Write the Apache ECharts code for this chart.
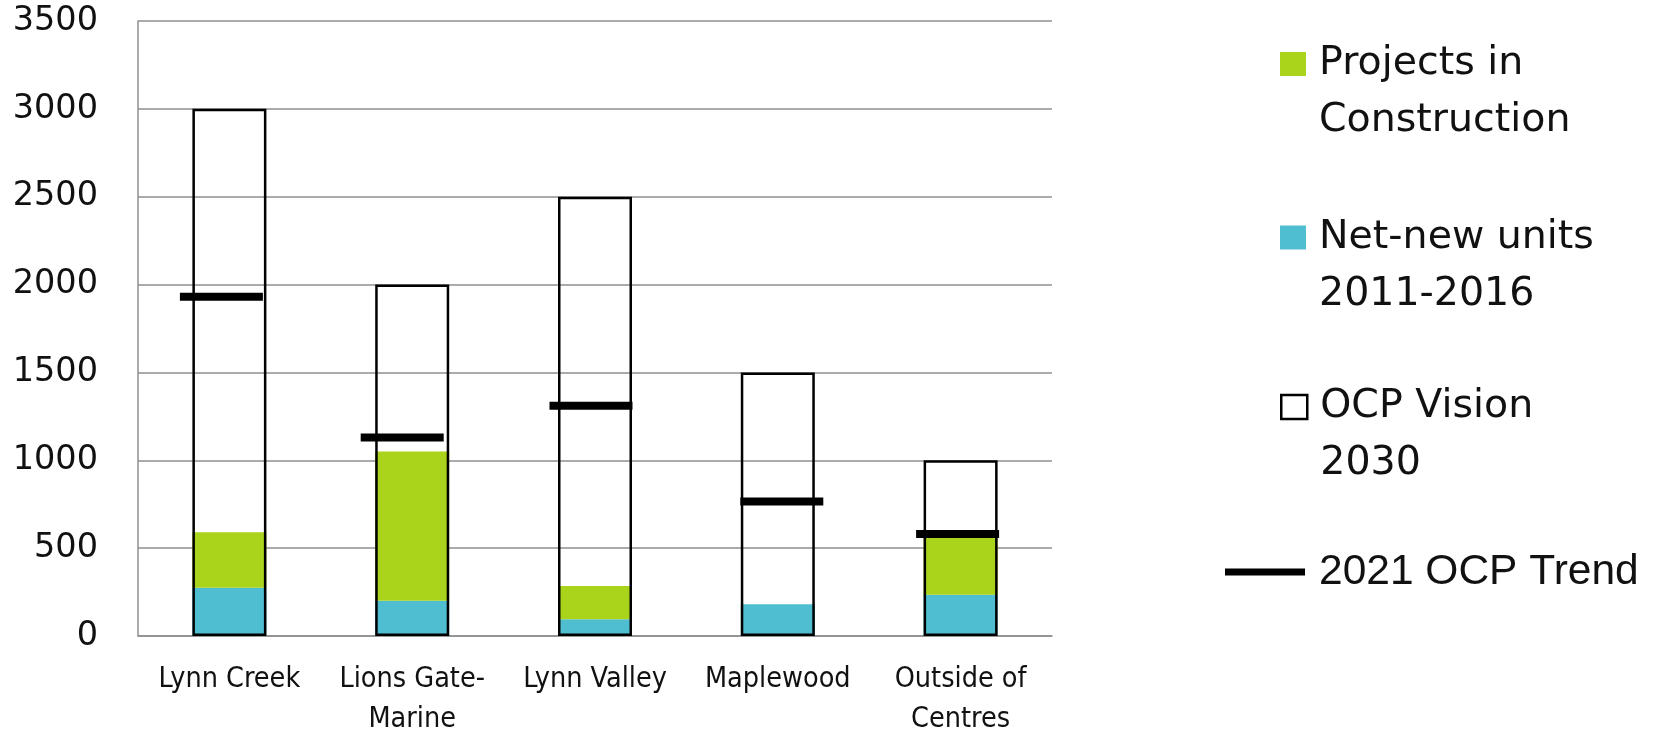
<!DOCTYPE html>
<html>
<head>
<meta charset="utf-8">
<script src="https://cdn.jsdelivr.net/npm/echarts@6/dist/echarts.min.js"></script>
<style>
  html, body { margin: 0; padding: 0; background: #ffffff; }
  #chart { width: 1654px; height: 731px; }
</style>
</head>
<body>
<div id="chart"></div>
<script>
// Housing units by town centre
const categories = ['Lynn Creek', 'Lions Gate-\nMarine', 'Lynn Valley', 'Maplewood', 'Outside of\nCentres'];
const netNewUnits = [275, 200, 95, 180, 235];            // Net-new units 2011-2016
const projectsInConstruction = [315, 850, 190, 0, 340];  // Projects in Construction (stacked above net-new)
const ocpVision2030 = [3000, 2000, 2500, 1500, 1000];    // OCP Vision 2030 totals
const ocpTrend2021 = [1930, 1130, 1310, 765, 580];       // 2021 OCP Trend
const yMin = 0, yMax = 3500, yStep = 500;

const seriesNames = {
  projects: 'Projects in Construction',
  netNew: 'Net-new units 2011-2016',
  vision: 'OCP Vision 2030',
  trend: '2021 OCP Trend'
};
// legend text, broken over two lines
const legendLines = {
  [seriesNames.projects]: ['Projects in', 'Construction'],
  [seriesNames.netNew]: ['Net-new units', '2011-2016'],
  [seriesNames.vision]: ['OCP Vision', '2030']
};

// horizontal nudge of each trend marker (px), purely cosmetic
const trendMarkerShift = [-8, -10, -4, 4, -3];

const GREEN = '#AAD31B';
const CYAN = '#50BED1';
const GRID_GREY = '#8f8f8f';

const chart = echarts.init(document.getElementById('chart'), null, { renderer: 'canvas' });

// A blank first line keeps the first text line level with the swatch
// (legend text is centred on its icon).
const twoLineFormatter = name => '\n' + legendLines[name].join('\n');

const legendTextBase = {
  fontFamily: 'DejaVu Sans',
  fontSize: 39.5,
  lineHeight: 57,
  color: '#111',
  padding: [0, 0, 0, 8]
};

function boxLegend(name, top, itemStyle) {
  const item = { name: name, icon: 'rect' };
  if (itemStyle) item.itemStyle = itemStyle;
  return {
    left: 1275, top: top, orient: 'vertical', itemWidth: 26, itemHeight: 24, itemGap: 0,
    data: [item], formatter: twoLineFormatter, textStyle: legendTextBase, selectedMode: false
  };
}

chart.setOption({
  animation: false,
  backgroundColor: '#ffffff',
  grid: { left: 138, right: 602, top: 21, bottom: 95, containLabel: false, outerBoundsMode: 'none' },
  legend: [
    boxLegend(seriesNames.projects, -26.5),
    boxLegend(seriesNames.netNew, 147),
    boxLegend(seriesNames.vision, 316.5, { color: '#ffffff', borderColor: '#000', borderWidth: 2.5 }),
    {
      left: 1220, top: 543, orient: 'vertical', itemWidth: 80, itemHeight: 7, itemGap: 0,
      data: [{ name: seriesNames.trend, icon: 'rect' }],
      textStyle: { fontFamily: 'Liberation Sans', fontSize: 42.5, lineHeight: 48, color: '#111',
                   padding: [0, 0, 0, 9] },
      selectedMode: false
    }
  ],
  xAxis: {
    type: 'category',
    data: categories,
    axisLine: { show: true, lineStyle: { color: GRID_GREY, width: 1.5 } },
    axisTick: { show: false },
    axisLabel: {
      color: '#111', fontFamily: 'DejaVu Sans Condensed', fontSize: 28.5,
      lineHeight: 40, margin: 24, interval: 0
    },
    splitLine: { show: false }
  },
  yAxis: {
    type: 'value',
    min: yMin, max: yMax, interval: yStep,
    axisLine: { show: true, lineStyle: { color: GRID_GREY, width: 1.5 } },
    axisTick: { show: false },
    axisLabel: {
      color: '#111', fontFamily: 'DejaVu Sans', fontSize: 33.5, margin: 40,
      formatter: v => String(v)
    },
    splitLine: { show: true, lineStyle: { color: GRID_GREY, width: 1.5 } }
  },
  series: [
    {
      name: seriesNames.netNew,
      type: 'bar', stack: 'built', barWidth: 74, barGap: '-100%',
      itemStyle: { color: CYAN },
      data: netNewUnits
    },
    {
      name: seriesNames.projects,
      type: 'bar', stack: 'built', barWidth: 74, barGap: '-100%',
      itemStyle: { color: GREEN },
      data: projectsInConstruction
    },
    {
      name: seriesNames.vision,
      type: 'bar', stack: 'vision', barWidth: 74, barGap: '-100%',
      itemStyle: { color: 'rgba(255,255,255,0)', borderColor: '#000', borderWidth: 2.5 },
      data: ocpVision2030,
      z: 3
    },
    {
      name: seriesNames.trend,
      type: 'scatter',
      symbol: 'rect',
      symbolSize: [83, 8],
      itemStyle: { color: '#000', opacity: 1 },
      data: ocpTrend2021.map((v, i) => ({ value: v, symbolOffset: [trendMarkerShift[i], 0] })),
      z: 5
    }
  ]
});
</script>
</body>
</html>
